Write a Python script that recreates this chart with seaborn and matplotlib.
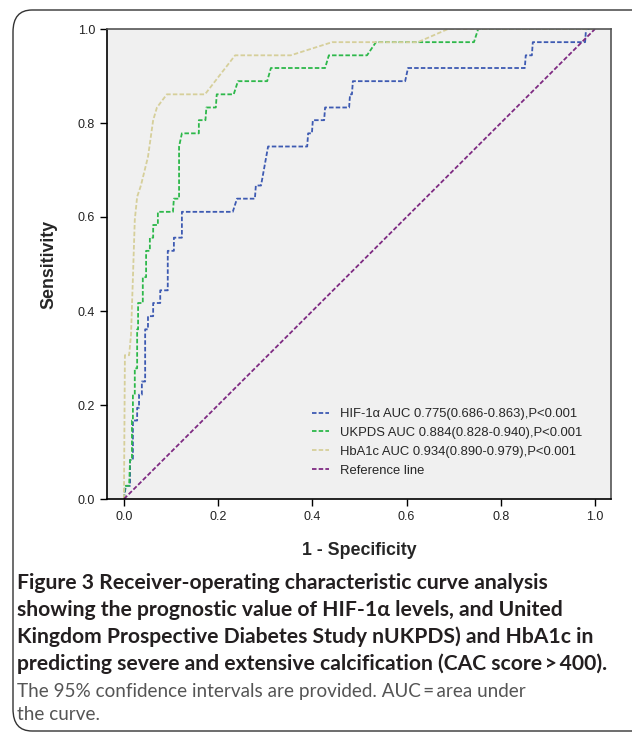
import numpy as np
import pandas as pd
import matplotlib
matplotlib.use("Agg")
import matplotlib.pyplot as plt
from matplotlib.patches import FancyBboxPatch
import seaborn as sns

# ROC curve points (1 - specificity, sensitivity)
hif_x = [0.000, 0.004, 0.013, 0.013, 0.019, 0.019, 0.028, 0.028, 0.032, 0.032,
         0.038, 0.038, 0.045, 0.045, 0.051, 0.051, 0.062, 0.062, 0.077, 0.077,
         0.093, 0.093, 0.106, 0.106, 0.123, 0.123, 0.231, 0.240, 0.278, 0.280,
         0.291, 0.306, 0.389, 0.391, 0.399, 0.401, 0.425, 0.427, 0.478, 0.480,
         0.484, 0.486, 0.597, 0.603, 0.851, 0.853, 0.866, 0.868, 0.979, 0.981, 1.000]
hif_y = [0.000, 0.028, 0.028, 0.083, 0.083, 0.167, 0.167, 0.194, 0.194, 0.222,
         0.222, 0.250, 0.250, 0.361, 0.361, 0.389, 0.389, 0.417, 0.417, 0.444,
         0.444, 0.528, 0.528, 0.556, 0.556, 0.611, 0.611, 0.639, 0.639, 0.667,
         0.667, 0.750, 0.750, 0.778, 0.778, 0.806, 0.806, 0.833, 0.833, 0.861,
         0.861, 0.889, 0.889, 0.917, 0.917, 0.944, 0.944, 0.972, 0.972, 1.000, 1.000]

ukpds_x = [0.000, 0.002, 0.011, 0.013, 0.017, 0.017, 0.019, 0.019, 0.023, 0.023,
           0.028, 0.028, 0.030, 0.030, 0.040, 0.040, 0.047, 0.047, 0.055, 0.055,
           0.062, 0.062, 0.072, 0.072, 0.104, 0.106, 0.117, 0.117, 0.123, 0.159,
           0.159, 0.173, 0.175, 0.195, 0.197, 0.233, 0.242, 0.304, 0.312, 0.427,
           0.435, 0.516, 0.535, 0.743, 0.752, 1.000]
ukpds_y = [0.000, 0.028, 0.028, 0.083, 0.083, 0.167, 0.167, 0.222, 0.222, 0.278,
           0.278, 0.361, 0.361, 0.417, 0.417, 0.472, 0.472, 0.528, 0.528, 0.556,
           0.556, 0.583, 0.583, 0.611, 0.611, 0.639, 0.639, 0.750, 0.778, 0.778,
           0.806, 0.806, 0.833, 0.833, 0.861, 0.861, 0.889, 0.889, 0.917, 0.917,
           0.944, 0.944, 0.972, 0.972, 1.000, 1.000]

hba_x = [0.000, 0.002, 0.011, 0.015, 0.019, 0.023, 0.028, 0.036, 0.051, 0.062,
         0.070, 0.091, 0.172, 0.236, 0.354, 0.442, 0.624, 0.688, 1.000]
hba_y = [0.000, 0.306, 0.306, 0.350, 0.470, 0.594, 0.643, 0.667, 0.728, 0.806,
         0.833, 0.861, 0.861, 0.944, 0.944, 0.972, 0.972, 1.000, 1.000]

ref_x = [0.0, 1.0]
ref_y = [0.0, 1.0]

labels = ["HIF-1\u03b1 AUC 0.775(0.686-0.863),P<0.001",
          "UKPDS AUC 0.884(0.828-0.940),P<0.001",
          "HbA1c AUC 0.934(0.890-0.979),P<0.001",
          "Reference line"]
colors = ["#3d5ab2", "#2db84a", "#d6cf9a", "#7e2a82"]

caption_bold = ["Figure 3 Receiver-operating characteristic curve analysis",
                "showing the prognostic value of HIF-1\u03b1 levels, and United",
                "Kingdom Prospective Diabetes Study nUKPDS) and HbA1c in",
                "predicting severe and extensive calcification (CAC score\u2009>\u2009400)."]
caption_plain = ["The 95% confidence intervals are provided. AUC\u2009=\u2009area under",
                 "the curve."]

sns.set_style("white")
plt.rcParams['font.family'] = ['Liberation Sans', 'DejaVu Sans']

fig = plt.figure(figsize=(6.32, 7.33), dpi=100)
ax = fig.add_axes([107/632, 1 - 499/733, (611 - 107)/632, (499 - 29)/733])
ax.set_facecolor("#f0f0f0")

series = [(hif_x, hif_y), (ukpds_x, ukpds_y), (hba_x, hba_y), (ref_x, ref_y)]
for (xs, ys), lab, col in zip(series, labels, colors):
    df = pd.DataFrame({"x": xs, "y": ys})
    sns.lineplot(data=df, x="x", y="y", ax=ax, color=col, label=lab,
                 estimator=None, sort=False, lw=1.3, linestyle=(0, (2.5, 1.2)))

ax.set_xlim(-0.036, 1.034)
ax.set_ylim(0, 1)
ax.set_xticks(np.arange(0, 1.01, 0.2))
ax.set_yticks(np.arange(0, 1.01, 0.2))
ax.set_xticklabels(["0.0", "0.2", "0.4", "0.6", "0.8", "1.0"])
ax.set_yticklabels(["0.0", "0.2", "0.4", "0.6", "0.8", "1.0"])
ax.tick_params(direction="out", length=5, width=1, color="black",
               labelsize=9, labelcolor="#222222", bottom=True, left=True)
for side in ["left", "bottom"]:
    ax.spines[side].set_color("black")
    ax.spines[side].set_linewidth(1.2)
for side in ["top", "right"]:
    ax.spines[side].set_color("#555555")
    ax.spines[side].set_linewidth(1.2)

ax.set_xlabel("1 - Specificity", fontsize=12.8, fontweight="bold", labelpad=14)
ax.set_ylabel("Sensitivity", fontsize=12.8, fontweight="bold", labelpad=15)

leg = ax.legend(loc="lower right", bbox_to_anchor=(0.966, 0.022), frameon=False,
                fontsize=9.4, handlelength=1.3, handletextpad=0.85,
                labelspacing=0.52)

# caption box
frame = FancyBboxPatch((13/632, 2/733), 1.2, 1 - 10/733 - 2/733,
                       boxstyle="round,pad=0,rounding_size=0.03",
                       transform=fig.transFigure, fill=False,
                       edgecolor="#333333", lw=1.0, clip_on=False)
fig.patches.append(frame)

ys = [583, 610, 637, 664]
for t, yp in zip(caption_bold, ys):
    fig.text(17/632, 1 - yp/733, t, fontsize=15.2, fontweight="bold",
             family=["Lato", "DejaVu Sans"], color="#231f20", va="center")
for t, yp in zip(caption_plain, [691, 714]):
    fig.text(17/632, 1 - yp/733, t, fontsize=13.6,
             family=["Lato", "DejaVu Sans"], color="#555555", va="center")

fig.savefig("out.png", dpi=100)
